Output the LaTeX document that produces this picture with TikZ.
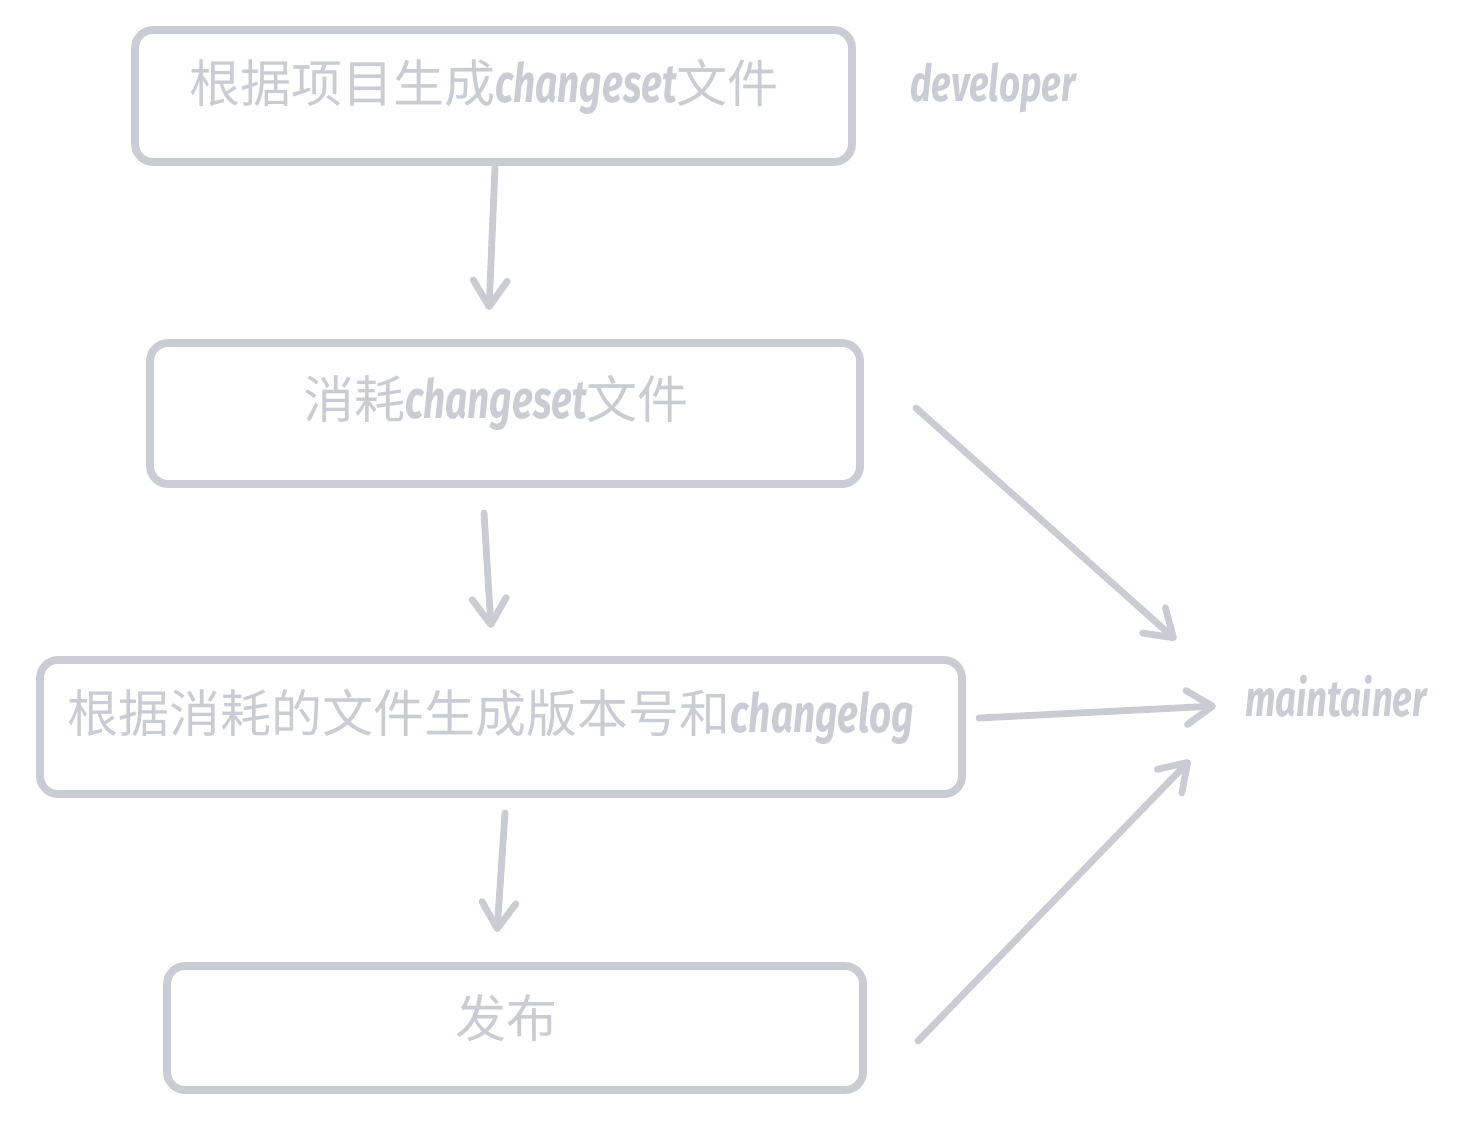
\documentclass[tikz,border=0pt]{standalone}
\usepackage{fontspec}
\setmainfont{Noto Sans CJK SC}
\newfontfamily\hand[FakeStretch=0.72]{Fira Sans}
\usetikzlibrary{arrows.meta}
\definecolor{ink}{HTML}{C9CDD3}
\tikzset{
  box/.style={draw=ink, line width=3.9pt, rounded corners=9pt, inner sep=0pt},
  txt/.style={text=ink, inner sep=0pt, font=\fontsize{25.5pt}{30pt}\selectfont},
  lab/.style={text=ink, inner sep=0pt, font=\fontsize{25.5pt}{30pt}\hand\bfseries\itshape},
  arr/.style={draw=ink, line width=3.4pt, line cap=round, -{Straight Barb[length=13pt,width=17pt,round]}}
}
\newcommand{\lat}[1]{{\fontsize{27pt}{30pt}\hand\bfseries\itshape #1}}
\begin{document}
\begin{tikzpicture}[x=0.5pt,y=-0.5pt]
\useasboundingbox (0,0) rectangle (1478,1124);
% boxes
\node[box, minimum width=358.5pt, minimum height=66pt] (b1) at (493.5,96) {};
\node[box, minimum width=355pt, minimum height=70.5pt] (b2) at (505,413.5) {};
\node[box, minimum width=461pt, minimum height=67pt] (b3) at (501,727) {};
\node[box, minimum width=348pt, minimum height=62pt] (b4) at (515,1028) {};
% texts
\node[txt] (t1) at (484,87) {根据项目生成\lat{changeset}文件};
\node[txt] (t2) at (496,403) {消耗\lat{changeset}文件};
\node[txt] (t3) at (491,717) {根据消耗的文件生成版本号和\lat{changelog}};
\node[txt] (t4) at (506,1018) {发布};
\node[lab] (dev) at (993,88) {developer};
\node[lab] (mnt) at (1336,696) {maintainer};
% connector endpoints
\coordinate (a1s) at (495,167);
\coordinate (a1e) at (489,310);
\coordinate (a2s) at (484,513);
\coordinate (a2e) at (491,628);
\coordinate (a3s) at (505,813);
\coordinate (a3e) at (497,932);
\coordinate (d1s) at (916,408);
\coordinate (d1e) at (1176,640);
\coordinate (hs) at (979,718);
\coordinate (he) at (1216,706);
\coordinate (d2s) at (918,1041);
\coordinate (d2e) at (1190,760);
\draw[arr] (a1s) -- (a1e);
\draw[arr] (a2s) -- (a2e);
\draw[arr] (a3s) -- (a3e);
\draw[arr] (d1s) -- (d1e);
\draw[arr] (hs) -- (he);
\draw[arr] (d2s) -- (d2e);
\end{tikzpicture}
\end{document}
